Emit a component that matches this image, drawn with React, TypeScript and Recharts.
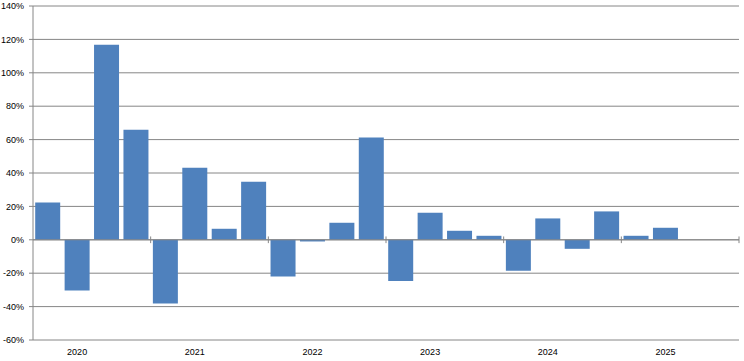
import React from 'react';
import { BarChart, Bar, XAxis, YAxis, CartesianGrid, ReferenceLine } from 'recharts';

const quarters = [
  '2020Q1', '2020Q2', '2020Q3', '2020Q4',
  '2021Q1', '2021Q2', '2021Q3', '2021Q4',
  '2022Q1', '2022Q2', '2022Q3', '2022Q4',
  '2023Q1', '2023Q2', '2023Q3', '2023Q4',
  '2024Q1', '2024Q2', '2024Q3', '2024Q4',
  '2025Q1', '2025Q2', '2025Q3', '2025Q4',
];
const growth: (number | null)[] = [
  22.3, -30.3, 116.8, 65.9,
  -38.1, 43.1, 6.6, 34.7,
  -22.0, -1.0, 10.2, 61.2,
  -24.6, 16.2, 5.4, 2.4,
  -18.6, 12.8, -5.4, 17.0,
  2.4, 7.2, null, null,
];
const years = ['2020', '2021', '2022', '2023', '2024', '2025'];
const yTicks = [-60, -40, -20, 0, 20, 40, 60, 80, 100, 120, 140];

// quarter i occupies [i, i+1] on the x scale
const data = quarters.map((q, i) => ({ q, pos: i + 0.5, growth: growth[i] }));
// year label sits under the second quarter, tick marks on the year boundaries
const yearLabelPos = years.map((_, i) => i * 4 + 1.5);
const yearEdges = years.map((_, i) => (i + 1) * 4);

const GRAY = '#868686';
const font = { fontFamily: 'Liberation Sans, Arial, sans-serif', fontSize: 9, fill: '#000' };

export default function App() {
  return (
    <div style={{ position: 'absolute', left: 0, top: 0, background: '#fff' }}>
      <BarChart
        width={744}
        height={361}
        data={data}
        margin={{ top: 6, right: 5, bottom: 0, left: 0 }}
        barCategoryGap="7.5%"
      >
        <CartesianGrid vertical={false} stroke={GRAY} strokeWidth={1} />
        <XAxis
          dataKey="pos"
          type="number"
          domain={[0, quarters.length]}
          allowDataOverflow
          ticks={yearLabelPos}
          tickFormatter={(v: number) => years[Math.floor(v / 4)]}
          axisLine={false}
          tickLine={false}
          tickSize={0}
          height={21}
          tickMargin={9}
          tick={font}
          interval={0}
        />
        <YAxis
          domain={[-60, 140]}
          ticks={yTicks}
          tickFormatter={(v: number) => `${v}%`}
          width={33}
          interval={0}
          axisLine={{ stroke: GRAY }}
          tickLine={{ stroke: GRAY }}
          tickSize={4}
          tickMargin={5}
          tick={font}
        />
        <Bar dataKey="growth" fill="#4F81BD" isAnimationActive={false} />
        <ReferenceLine y={0} stroke={GRAY} />
        {yearEdges.map((b) => (
          <ReferenceLine
            key={b}
            segment={[{ x: b, y: -2 }, { x: b, y: 2 }]}
            stroke={GRAY}
            ifOverflow="visible"
          />
        ))}
      </BarChart>
    </div>
  );
}
